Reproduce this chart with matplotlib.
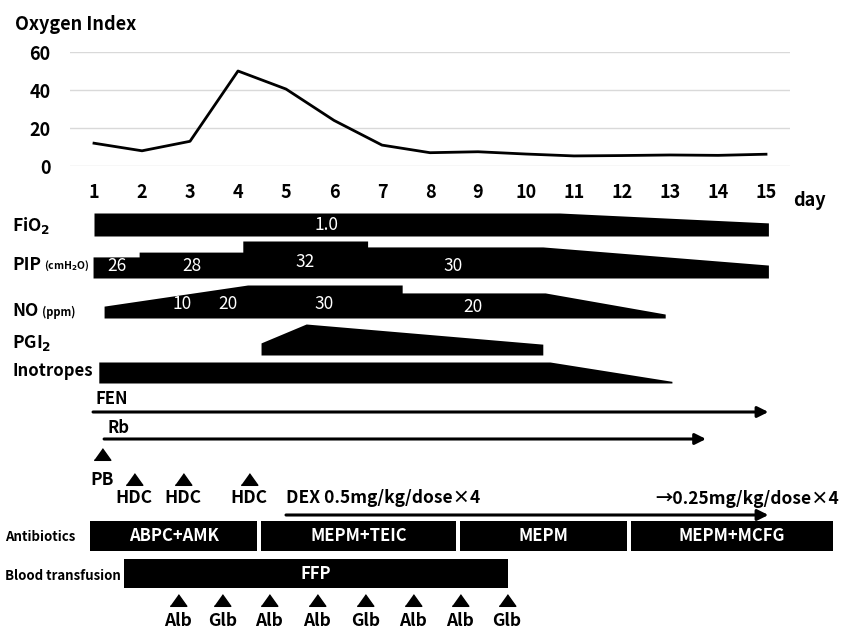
import matplotlib
matplotlib.use('Agg')
import matplotlib.pyplot as plt

plt.rcParams['font.family'] = ['Noto Sans CJK JP', 'DejaVu Sans']
plt.rcParams['font.weight'] = 'bold'
plt.rcParams['mathtext.default'] = 'bf'

W, H = 856, 632

# oxygen index by day
days = list(range(1, 16))
oxygen_index = [12, 8, 13, 50, 40.5, 24, 11, 7, 7.5, 6.3, 5.3, 5.5, 5.8, 5.6, 6.2]

# treatment profiles: day breakpoints + relative bar thickness
fio2_days = [1, 10.7, 15.05]
fio2_level = [1.0, 1.0, 0.57]
pip_days = [0.98, 1.94, 1.94, 4.1, 4.1, 6.7, 6.7, 10.35, 15.05]
pip_level = [0.57, 0.57, 0.70, 0.70, 1.0, 1.0, 0.84, 0.84, 0.35]
pip_labels = ['26', '28', '32', '30']
pip_label_days = [1.48, 3.04, 5.4, 8.48]
no_days = [1.21, 4.2, 7.42, 7.42, 10.4, 12.9]
no_level = [0.36, 1.0, 1.0, 0.76, 0.76, 0.12]
no_labels = ['10', '20', '30', '20']
no_label_days = [2.83, 3.79, 5.79, 8.9]
pgi2_days = [4.48, 5.42, 10.35]
pgi2_level = [0.39, 1.0, 0.35]
ino_days = [1.1, 10.5, 13.04]
ino_level = [1.0, 1.0, 0.08]

fen_span = [0.98, 15.05]
rb_span = [1.21, 13.75]
dex_span = [5.0, 15.05]
pb_day = 1.17
hdc_days = [1.83, 2.85, 4.23]

abx_names = ['ABPC+AMK', 'MEPM+TEIC', 'MEPM', 'MEPM+MCFG']
abx_start = [0.92, 4.48, 8.63, 12.19]
abx_end = [4.4, 8.54, 12.1, 16.4]
ffp_span = [1.63, 9.63]
alb_names = ['Alb', 'Glb', 'Alb', 'Alb', 'Glb', 'Alb', 'Alb', 'Glb']
alb_days = [2.75, 3.67, 4.65, 5.65, 6.65, 7.65, 8.63, 9.6]

fig = plt.figure(figsize=(W / 100, H / 100), dpi=100)

# background axes: x in days, y in pixels from the top
ppd = 48.0  # pixels per day
bg = fig.add_axes([0, 0, 1, 1])
bg.set_xlim(0.5 - 70 / ppd, 0.5 + (W - 70) / ppd)
bg.set_ylim(H, 0)
bg.axis('off')

# top line chart
ax = fig.add_axes([70 / W, 1 - 166 / H, 720 / W, 114 / H])
ax.plot(days, oxygen_index, color='black', lw=2)
ax.set_xlim(0.5, 15.5)
ax.set_ylim(0, 60)
ax.set_yticks([0, 20, 40, 60])
ax.set_xticks(days)
ax.grid(axis='y', color='#d9d9d9', lw=1)
ax.set_axisbelow(True)
for s in ax.spines.values():
    s.set_visible(False)
ax.tick_params(length=0, labelsize=13, pad=12)
ax.tick_params(axis='y', pad=14)
fig.text(15 / W, 1 - 24 / H, 'Oxygen Index', fontsize=13, va='center', ha='left')
bg.text(0.5 + (793 - 70) / ppd, 201, 'day', fontsize=13, va='center', ha='left')

LX = 0.5 + (12 - 70) / ppd
LX2 = 0.5 + (5 - 70) / ppd


def profile(xs, lv, bottom, full):
    tops = [bottom - full * v for v in lv]
    bg.fill_between(xs, [bottom] * len(xs), tops, color='black', lw=0)


def white(x, y, s, size=12.5, weight='bold'):
    bg.text(x, y, s, color='white', fontsize=size, ha='center', va='center',
            fontweight=weight)


# FiO2
profile(fio2_days, fio2_level, 236, 23)
white(5.85, 225, '1.0', weight='normal')
bg.text(LX, 225, 'FiO$_2$', fontsize=12.5, va='center')

# PIP
profile(pip_days, pip_level, 278, 37)
for d, s in zip(pip_label_days, pip_labels):
    white(d, 266 if s != '32' else 262, s, weight='normal')
bg.text(LX, 265, 'PIP', fontsize=12.5, va='center')
bg.text(0.5 + (44 - 70) / ppd, 266, '(cmH$_2$O)', fontsize=7.5, va='center')

# NO
profile(no_days, no_level, 318, 33)
for d, s in zip(no_label_days, no_labels):
    white(d, 304 if d < 8 else 307, s, weight='normal')
bg.text(LX, 311, 'NO', fontsize=12.5, va='center')
bg.text(0.5 + (42 - 70) / ppd, 312, '(ppm)', fontsize=8, va='center')

# PGI2
profile(pgi2_days, pgi2_level, 355, 31)
bg.text(LX, 343, 'PGI$_2$', fontsize=12.5, va='center')

# inotropes
profile(ino_days, ino_level, 383, 21)
bg.text(LX, 371, 'Inotropes', fontsize=12, va='center')


def arrow(span, y):
    bg.annotate('', xy=(span[1], y), xytext=(span[0], y),
                arrowprops=dict(arrowstyle='-|>', color='black', lw=2.2,
                                mutation_scale=16, shrinkA=0, shrinkB=0))


arrow(fen_span, 412)
bg.text(fen_span[0] + 0.05, 399, 'FEN', fontsize=12, va='center')
arrow(rb_span, 439)
bg.text(rb_span[0] + 0.08, 428, 'Rb', fontsize=12, va='center')

tri = [(-1, -0.7), (1, -0.7), (0, 0.7)]
bg.plot([pb_day], [454], marker=tri, ms=12, color='black', ls='none')
bg.text(pb_day, 480, 'PB', fontsize=12.5, ha='center', va='center')
bg.plot(hdc_days, [479] * len(hdc_days), marker=tri, ms=12, color='black', ls='none')
for d in hdc_days:
    bg.text(d, 498, 'HDC', fontsize=12.5, ha='center', va='center')

arrow(dex_span, 515)
bg.text(dex_span[0], 498, 'DEX 0.5mg/kg/dose\u00d74', fontsize=12.5, va='center')
bg.text(0.5 + (655 - 70) / ppd, 499, '\u21920.25mg/kg/dose\u00d74', fontsize=12.5, va='center')

# antibiotics
for n, a, b in zip(abx_names, abx_start, abx_end):
    bg.fill_between([a, b], [551, 551], [521, 521], color='black', lw=0)
    white((a + b) / 2, 536, n, 12)
bg.text(LX2, 537, 'Antibiotics', fontsize=9.5, va='center')

# blood transfusion
bg.fill_between(ffp_span, [588, 588], [559, 559], color='black', lw=0)
white(sum(ffp_span) / 2, 574, 'FFP', 12)
bg.text(LX2, 576, 'Blood transfusion', fontsize=9.5, va='center')
bg.plot(alb_days, [600] * len(alb_days), marker=tri, ms=12, color='black', ls='none')
for d, s in zip(alb_days, alb_names):
    bg.text(d, 621, s, fontsize=12.5, ha='center', va='center')

fig.savefig('out.png', dpi=100)
